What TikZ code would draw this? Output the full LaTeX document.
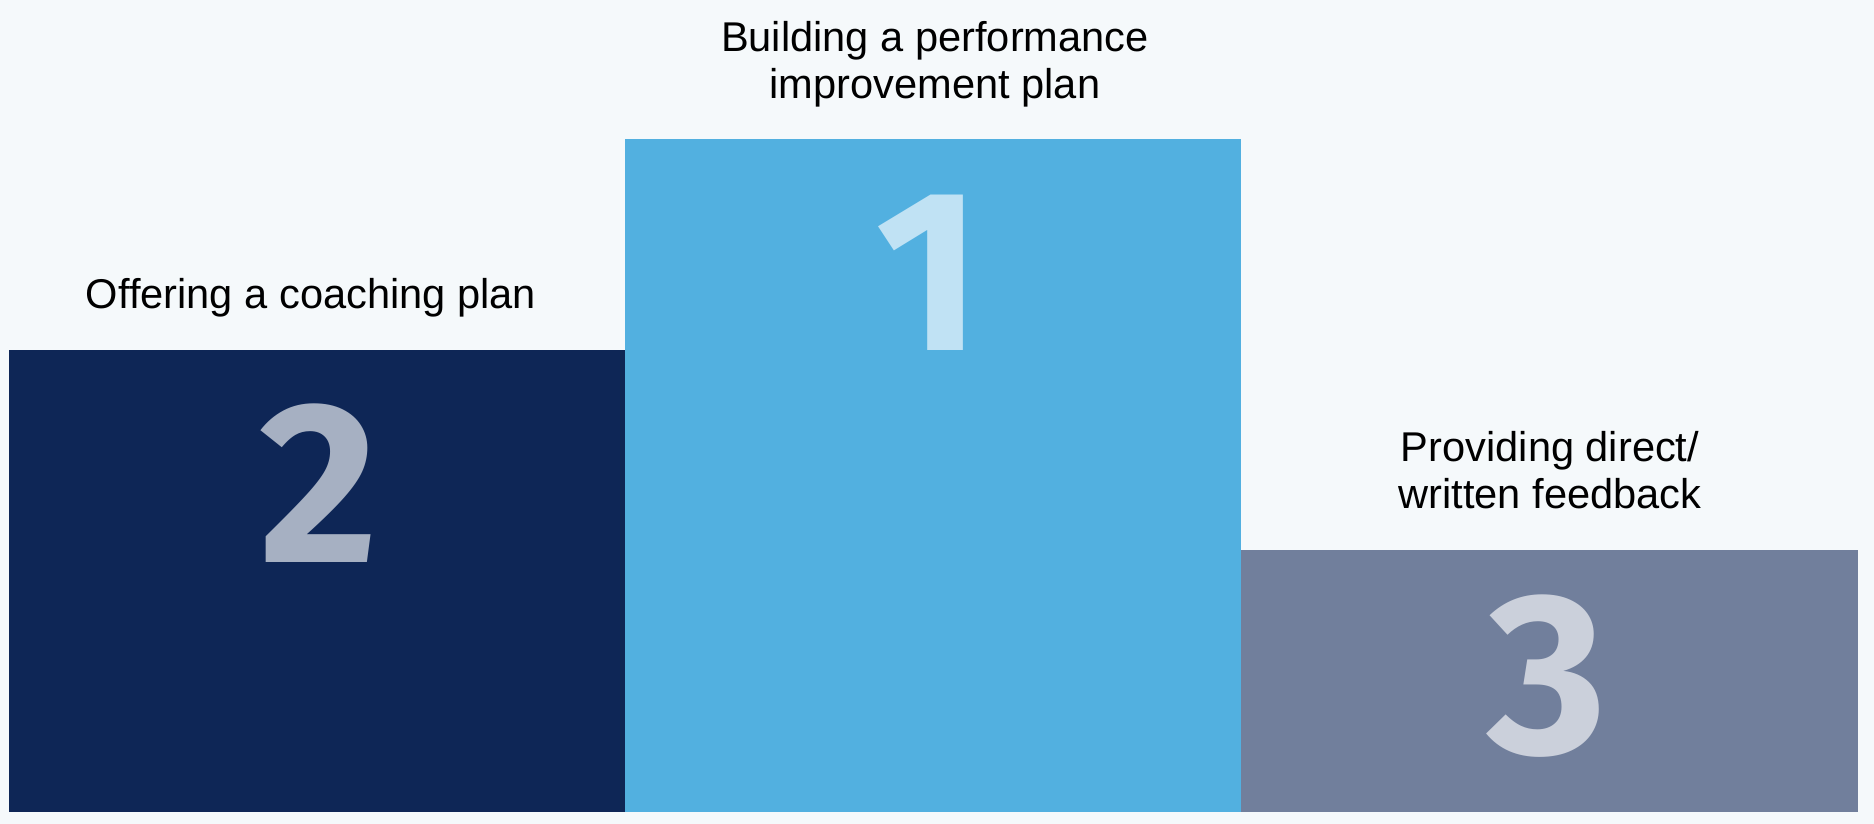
\documentclass[tikz,border=0pt]{standalone}
\usepackage{fontspec}
\setmainfont{Liberation Sans}
\newfontfamily\rankfont{Fira Sans}
\usepackage{xcolor}
\usepackage{tikz}
\usetikzlibrary{positioning,calc}

\definecolor{bgcol}{HTML}{F5F9FB}
\definecolor{navy}{HTML}{0E2656}
\definecolor{sky}{HTML}{52B0E0}
\definecolor{slate}{HTML}{717F9C}
\definecolor{navydigit}{HTML}{A6B0C2}
\definecolor{skydigit}{HTML}{C0E2F4}
\definecolor{slatedigit}{HTML}{CBD0DB}

\begin{document}
\begin{tikzpicture}[
  x=0.5pt, y=0.5pt,
  every node/.style={align=center},
  podium/.style={rectangle, draw=none, fill=#1, inner sep=0pt, anchor=south west},
  rank/.style={inner sep=0pt, text=#1, font=\rankfont\fontsize{115}{115}\selectfont\bfseries},
  caption/.style={inner sep=0pt, text=black, font=\fontsize{20.8}{23.5}\selectfont}
]

  % Background and bounds
  \fill[bgcol] (0,0) rectangle (1874,824);
  \useasboundingbox (0,0) rectangle (1874,824);

  % Podium blocks
  \node[podium=navy, minimum width=308pt, minimum height=231pt] (second) at (9,12) {};
  \node[podium=sky, minimum width=308pt, minimum height=336.5pt] (first) at (625,12) {};
  \node[podium=slate, minimum width=308.5pt, minimum height=131pt] (third) at (1241,12) {};

  % Rank numbers
  \node[rank=skydigit] (num1) at (929,551) {1};
  \node[rank=navydigit] (num2) at (319,341) {2};
  \node[rank=slatedigit] (num3) at (1547,148) {3};

  % Captions
  \node[caption] (cap1) at (935,760) {Building a performance\\improvement plan};
  \node[caption] (cap2) at (311,526) {Offering a coaching plan};
  \node[caption] (cap3) at (1550,354) {Providing direct/\\written feedback};

\end{tikzpicture}
\end{document}
